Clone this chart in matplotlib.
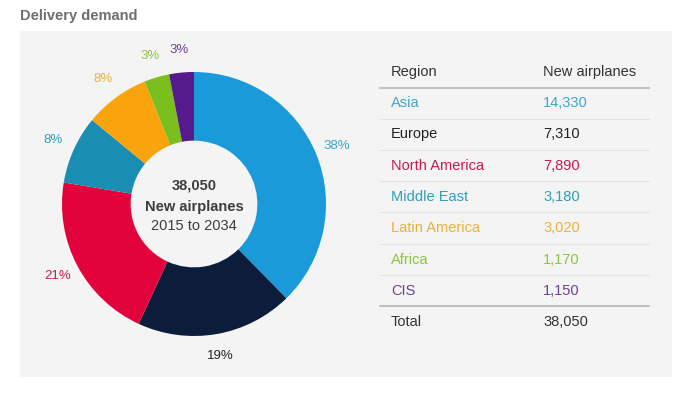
import matplotlib.pyplot as plt
from matplotlib.patches import Rectangle

plt.rcParams['font.family'] = ['Liberation Sans', 'DejaVu Sans']

regions = ['Asia', 'Europe', 'North America', 'Middle East', 'Latin America', 'Africa', 'CIS']
airplanes = [14330, 7310, 7890, 3180, 3020, 1170, 1150]
total = 38050
wedge_colors = ['#1b9ad9', '#0c1d3b', '#e3033c', '#1a8db3', '#f9a40d', '#7bbf1f', '#551a8b']
text_colors = ['#3ba7cc', '#222222', '#c81b4b', '#2c9fba', '#e9b13a', '#8cc43e', '#6c418e']

W, H = 700, 394
fig = plt.figure(figsize=(7, 3.94), dpi=100)
fig.patch.set_facecolor('white')

def fx(px):
    return px / W

def fy(py):
    return 1 - py / H

# panel background
fig.patches.append(Rectangle((fx(20), fy(377)), fx(672) - fx(20), fy(31) - fy(377),
                             transform=fig.transFigure, facecolor='#f4f4f4',
                             edgecolor='none', zorder=-5))
fig.text(fx(20), fy(16), 'Delivery demand', fontsize=10.5, fontweight='bold',
         color='#6e6e6e', va='center', ha='left')

# donut
r = 132
cx, cy = 194, 204
ax = fig.add_axes([fx(cx - r), fy(cy + r), 2 * r / W, 2 * r / H])
ax.set_zorder(5)
ax.set_facecolor('none')
wedges, texts, autotexts = ax.pie(airplanes, colors=wedge_colors, startangle=90,
                                  counterclock=False, autopct='%.0f%%', pctdistance=1.17,
                                  wedgeprops=dict(width=0.52, edgecolor='none'),
                                  textprops=dict(fontsize=9.5))
for t, c in zip(autotexts, text_colors):
    t.set_color(c)
ax.set_aspect('equal')
ax.set_xlim(-1, 1)
ax.set_ylim(-1, 1)
ax.axis('off')

ax.text(0, 0.14, f'{total:,}', ha='center', va='center', fontsize=10.5,
        fontweight='bold', color='#3d3d3d')
ax.text(0, -0.02, 'New airplanes', ha='center', va='center', fontsize=10.5,
        fontweight='bold', color='#3d3d3d')
ax.text(0, -0.17, '2015 to 2034', ha='center', va='center', fontsize=10.5,
        color='#3d3d3d')

# table
col1, col2 = 391, 543
fs = 10.5
fig.text(fx(col1), fy(72), 'Region', fontsize=fs, color='#333333', va='center')
fig.text(fx(col2), fy(72), 'New airplanes', fontsize=fs, color='#333333', va='center')
row_y = [103 + i * 31.3 for i in range(len(regions))]
for name, val, c, y in zip(regions, airplanes, text_colors, row_y):
    fig.text(fx(col1), fy(y), name, fontsize=fs, color=c, va='center')
    fig.text(fx(col2), fy(y), f'{val:,}', fontsize=fs, color=c, va='center')
    if name != regions[-1]:
        fig.add_artist(plt.Line2D([fx(380), fx(649)], [fy(y + 15.5)] * 2,
                                  color='#e2e2e2', lw=0.8))
fig.add_artist(plt.Line2D([fx(380), fx(649)], [fy(88)] * 2, color='#b5b5b5', lw=1.2))
fig.add_artist(plt.Line2D([fx(380), fx(649)], [fy(306)] * 2, color='#b5b5b5', lw=1.2))
fig.text(fx(col1), fy(322), 'Total', fontsize=fs, color='#333333', va='center')
fig.text(fx(col2), fy(322), f'{total:,}', fontsize=fs, color='#333333', va='center')

fig.savefig('out.png', dpi=100, facecolor=fig.get_facecolor())
